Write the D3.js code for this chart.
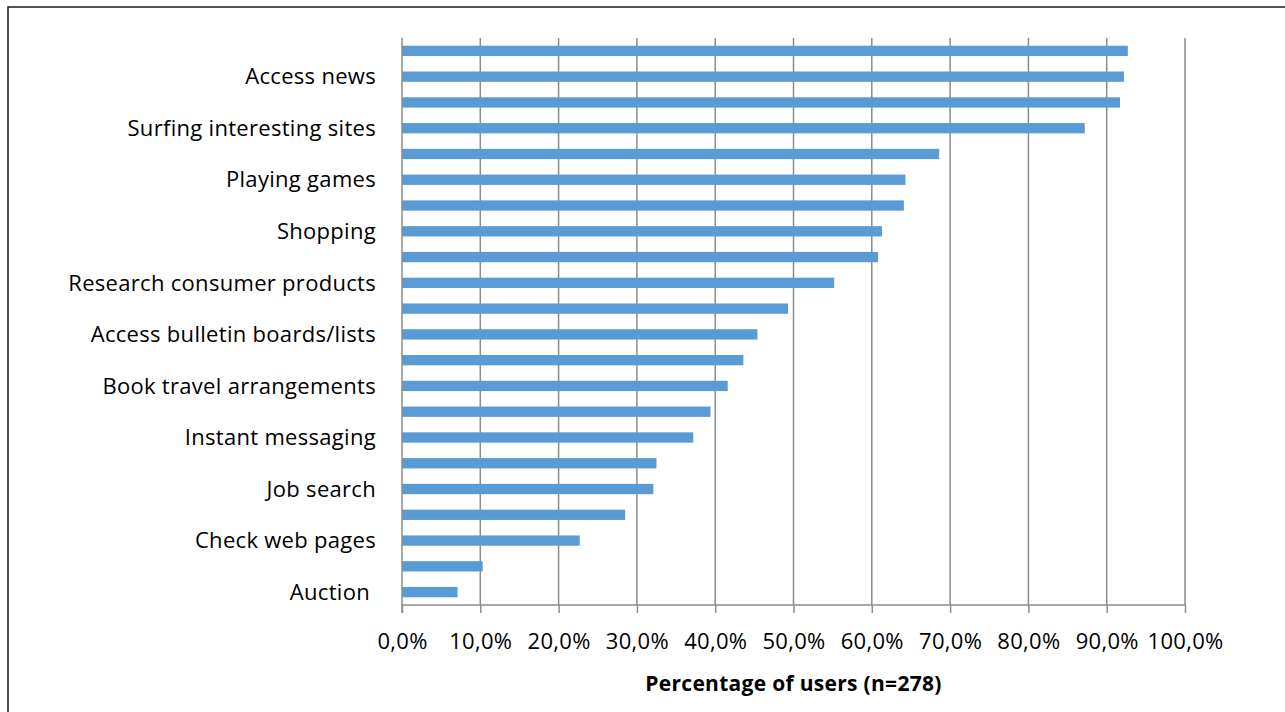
<!DOCTYPE html>
<html>
<head>
<meta charset="utf-8">
<script src="https://cdn.jsdelivr.net/npm/d3@7"></script>
<style>
  body { margin: 0; background: #fff; }
  text { font-family: "Open Sans", sans-serif; fill: #000; }
</style>
</head>
<body>
<script>
// chart size
var w = 1285, h = 712;

// categories from top to bottom; only every second one carries a visible label
var categories = [
    "", "Access news",
    "", "Surfing interesting sites",
    "", "Playing games",
    "", "Shopping",
    "", "Research consumer products",
    "", "Access bulletin boards/lists",
    "", "Book travel arrangements",
    "", "Instant messaging",
    "", "Job search",
    "", "Check web pages",
    "", "Auction "
];
// percentage of users, same order as categories
var values = [
    92.7, 92.2, 91.7, 87.2, 68.6, 64.3, 64.1, 61.3, 60.8, 55.2, 49.3,
    45.4, 43.6, 41.6, 39.4, 37.2, 32.5, 32.1, 28.5, 22.7, 10.3, 7.1
];
var xTicks = [0, 10, 20, 30, 40, 50, 60, 70, 80, 90, 100];
var xTitle = "Percentage of users (n=278)";

var margin = {top: 38, right: 100, bottom: 107, left: 402};

var svg = d3.select("body")
    .append("svg")
    .attr("width", w)
    .attr("height", h);

// outer frame, runs off the right and bottom edges like the original
svg.append("rect")
    .attr("x", 8)
    .attr("y", 7)
    .attr("width", w)
    .attr("height", h)
    .style("fill", "none")
    .style("stroke", "#1a1a1a")
    .style("stroke-width", 1.5);

var x = d3.scaleLinear()
    .domain([0, 100])
    .range([margin.left, 1185]);

var y = d3.scaleBand()
    .domain(d3.range(values.length))
    .range([margin.top, h - margin.bottom])
    .paddingInner(0.6)
    .paddingOuter(0.3);

// vertical gridlines
svg.append("g")
    .selectAll("line")
    .data(xTicks.slice(1))
    .enter()
    .append("line")
    .attr("x1", function(d){ return x(d); })
    .attr("x2", function(d){ return x(d); })
    .attr("y1", margin.top)
    .attr("y2", h - margin.bottom)
    .style("stroke", "#8c8c8c")
    .style("stroke-width", 1.5);

// bars
svg.append("g")
    .selectAll("rect")
    .data(values)
    .enter()
    .append("rect")
    .attr("x", x(0))
    .attr("y", function(d, i){ return y(i); })
    .attr("width", function(d){ return x(d) - x(0); })
    .attr("height", y.bandwidth())
    .style("fill", "#5b9bd5");

// x axis
var xAxis = d3.axisBottom(x)
    .tickValues(xTicks)
    .tickSize(8)
    .tickPadding(20)
    .tickFormat(function(d){ return d.toFixed(1).replace(".", ",") + "%"; });

var gx = svg.append("g")
    .attr("transform", "translate(0," + (h - margin.bottom) + ")")
    .call(xAxis);
gx.select(".domain").attr("d", "M" + x(0) + ",0H" + x(100))
    .style("stroke", "#8c8c8c").style("stroke-width", 1.5);
gx.selectAll(".tick line").style("stroke", "#8c8c8c").style("stroke-width", 1.5);
gx.selectAll(".tick text")
    .style("font-size", "22px")
    .style("letter-spacing", "0.3px")
    .style("fill", "#000");

// y axis line
svg.append("line")
    .attr("x1", x(0))
    .attr("x2", x(0))
    .attr("y1", margin.top)
    .attr("y2", h - margin.bottom + 8)
    .style("stroke", "#8c8c8c")
    .style("stroke-width", 1.5);

// category labels (every second one)
svg.append("g")
    .selectAll("text")
    .data(categories)
    .enter()
    .filter(function(d){ return d !== ""; })
    .append("text")
    .attr("x", x(0) - 26)
    .attr("y", function(d){ return y(categories.indexOf(d)) + y.bandwidth() / 2; })
    .attr("dy", "0.35em")
    .attr("text-anchor", "end")
    .style("white-space", "pre")
    .style("font-size", "22px")
    .style("letter-spacing", "0.3px")
    .text(function(d){ return d; });

// axis title
svg.append("text")
    .attr("x", (x(0) + x(100)) / 2)
    .attr("y", 691)
    .attr("text-anchor", "middle")
    .style("font-size", "21px")
    .style("font-weight", "bold")
    .style("letter-spacing", "0.3px")
    .text(xTitle);
</script>
</body>
</html>
